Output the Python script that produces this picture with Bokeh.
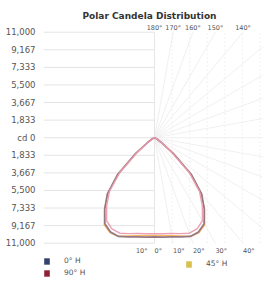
import numpy as np
from bokeh.plotting import figure
from bokeh.models import Range1d, FixedTicker, Legend, LegendItem
from bokeh.core.properties import value
from bokeh.embed import file_html
from bokeh.resources import INLINE

# ---------------- data ----------------
title_text = "Polar Candela Distribution"
angles = [0, 5, 10, 15, 20, 25, 30, 35, 40, 45, 50, 55, 60, 65, 70, 75, 80, 85, 90]
cd_0H = [10350, 10400, 10500, 10700, 10950, 10850, 10350, 9050, 7650, 5450,
         2550, 920, 330, 130, 50, 20, 10, 0, 0]
cd_90H = [10000, 10050, 10150, 10350, 10600, 10500, 10000, 8700, 7300, 5100,
          2300, 830, 290, 115, 45, 18, 8, 0, 0]
cd_45H = [10200, 10250, 10380, 10600, 10950, 10950, 10500, 9100, 7500, 5200,
          2400, 850, 300, 120, 45, 18, 8, 0, 0]
series_labels = ["0° H", "90° H", "45° H"]
legend_colors = ["#34416c", "#8c2237", "#d9c04c"]
line_colors = ["#8f7380", "#ec9bb0", "#f2b457"]

r_max = 11000
tick_values = [-11000, -9167, -7333, -5500, -3667, -1833, 0,
               1833, 3667, 5500, 7333, 9167, 11000]
tick_labels = ["11,000", "9,167", "7,333", "5,500", "3,667", "1,833", "cd 0",
               "1,833", "3,667", "5,500", "7,333", "9,167", "11,000"]
top_angles = [180, 170, 160, 150, 140]
top_angle_labels = ["180°", "170°", "160°", "150°", "140°"]
bottom_angles = [-10, 0, 10, 20, 30, 40]
bottom_angle_labels = ["10°", "0°", "10°", "20°", "30°", "40°"]
spoke_angles = list(range(0, 181, 10))

# ---------------- layout ----------------
W, H = 263, 295
left_border = 43
px = 104.27             # candela per pixel
cx_fig = 154            # centre x inside figure (px)
cy_fig = 137.2          # centre y from figure top (px)
x0 = -(cx_fig - left_border) * px
x1 = (W - cx_fig) * px
y1 = cy_fig * px
y0 = -(H - cy_fig) * px

p = figure(width=W, height=H, output_backend="svg", toolbar_location=None,
           x_range=Range1d(x0, x1), y_range=Range1d(y0, y1),
           min_border_left=left_border, min_border_right=0,
           min_border_top=0, min_border_bottom=0)
p.xaxis.visible = False
p.xgrid.visible = False
p.ygrid.visible = False
p.outline_line_color = None
p.background_fill_color = "white"

ax = p.yaxis[0]
ax.ticker = FixedTicker(ticks=tick_values)
ax.major_label_overrides = {v: l for v, l in zip(tick_values, tick_labels)}
ax.axis_line_color = None
ax.major_tick_line_color = None
ax.minor_tick_line_color = None
ax.major_label_standoff = 2
ax.major_label_text_font = "DejaVu Sans"
ax.major_label_text_font_size = "8.5px"
ax.major_label_text_color = "#555555"

# left half: horizontal grid lines
p.segment(x0=[x0] * len(tick_values), y0=tick_values,
          x1=[0] * len(tick_values), y1=tick_values,
          line_color="#e4e4e4", line_width=1)

# right half: faint vertical lines
vx = [v for v in tick_values if v > 0]
p.segment(x0=vx, y0=[-r_max] * len(vx), x1=vx, y1=[r_max] * len(vx),
          line_color="#f0f0f0", line_width=1, line_dash="2 2")

# spokes
phi = np.radians(spoke_angles)
sx, sy = np.sin(phi), -np.cos(phi)
with np.errstate(divide="ignore"):
    t_y = np.where(np.abs(sy) > 1e-9, r_max / np.abs(sy), np.inf)
    t_x = np.where(sx > 1e-9, x1 / sx, np.inf)
t = np.minimum(t_y, t_x)
p.segment(x0=[0] * len(phi), y0=[0] * len(phi), x1=sx * t, y1=sy * t,
          line_color="#f0f0f0", line_width=1)

# centre vertical line
p.segment(x0=[0], y0=[-r_max], x1=[0], y1=[r_max], line_color="#e6e6e6", line_width=1)

# angle labels
ta = np.radians(top_angles)
p.text(x=r_max * np.tan(np.pi - ta), y=[r_max + 480] * len(ta), text=top_angle_labels,
       text_font=value("DejaVu Sans"), text_font_size="6.5px", text_color="#555555",
       text_align="center", text_baseline="middle")
ba = np.radians(bottom_angles)
p.text(x=r_max * np.tan(ba), y=[-r_max - 780] * len(ba), text=bottom_angle_labels,
       text_font=value("DejaVu Sans"), text_font_size="6.5px", text_color="#555555",
       text_align="left", text_baseline="middle")

# title
p.text(x=[-(154 - 149) * px], y=[(137.2 - 15) * px], text=[title_text],
       text_font=value("DejaVu Sans"), text_font_size="9px", text_font_style="bold",
       text_color="#333333", text_align="center", text_baseline="middle")

# curves
def curve(vals):
    a = np.radians(np.array(angles, dtype=float))
    r = np.array(vals, dtype=float)
    th = np.concatenate([-a[::-1], a[1:]])
    rr = np.concatenate([r[::-1], r[1:]])
    return rr * np.sin(th), -rr * np.cos(th)

order = [2, 0, 1]
data_sets = [cd_0H, cd_90H, cd_45H]
widths = [1.7, 1.4, 1.3]
for i in order:
    xs, ys = curve(data_sets[i])
    p.line(xs, ys, line_color=line_colors[i], line_width=widths[i], line_alpha=0.95)

# legend swatches (one hidden row each, drawn only in the legend)
sw = [p.quad(left=[np.nan], right=[np.nan], top=[np.nan], bottom=[np.nan],
             fill_color=c, line_color=None) for c in legend_colors]

def make_legend(items, loc):
    lg = Legend(items=items, location=loc, orientation="vertical",
                glyph_width=7, glyph_height=8, label_height=8, label_standoff=14,
                spacing=3, padding=0, margin=0, border_line_color=None,
                background_fill_alpha=0, label_text_font="DejaVu Sans",
                label_text_font_size="7.5px", label_text_color="#555555")
    p.add_layout(lg)

make_legend([LegendItem(label=series_labels[0], renderers=[sw[0]]),
             LegendItem(label=series_labels[1], renderers=[sw[1]])], (0, 18))
make_legend([LegendItem(label=series_labels[2], renderers=[sw[2]])], (142, 27))

open("out.html", "w").write(file_html(p, INLINE))
